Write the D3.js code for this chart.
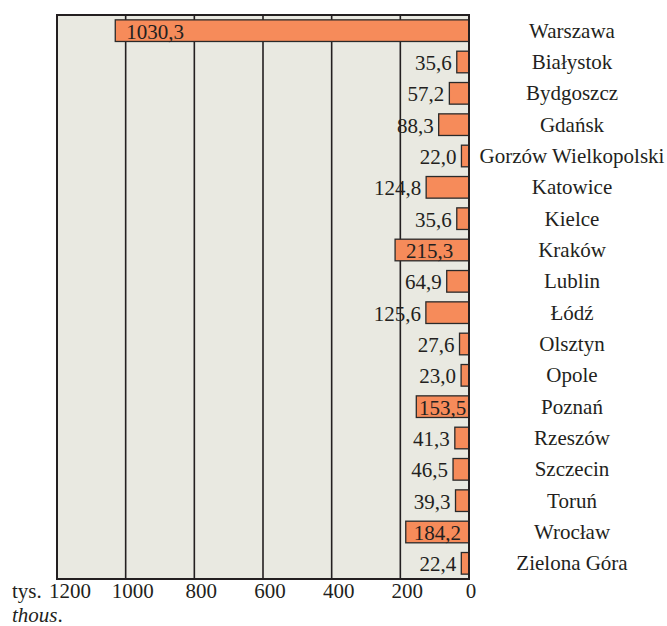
<!DOCTYPE html>
<html>
<head>
<meta charset="utf-8">
<script src="https://cdn.jsdelivr.net/npm/d3@7"></script>
<style>
  body { margin: 0; }
  #chart text { font-family: "Liberation Serif", "Times New Roman", Tinos, serif !important; }
</style>
</head>
<body>
<svg id="chart" width="667" height="626"></svg>
<script>
// Cities (voivodeship capitals) and their values, in thousands
const cities = ["Warszawa", "Białystok", "Bydgoszcz", "Gdańsk", "Gorzów Wielkopolski",
  "Katowice", "Kielce", "Kraków", "Lublin", "Łódź", "Olsztyn", "Opole", "Poznań",
  "Rzeszów", "Szczecin", "Toruń", "Wrocław", "Zielona Góra"];
const values = [1030.3, 35.6, 57.2, 88.3, 22.0, 124.8, 35.6, 215.3, 64.9, 125.6,
  27.6, 23.0, 153.5, 41.3, 46.5, 39.3, 184.2, 22.4];
const tickValues = [1200, 1000, 800, 600, 400, 200, 0];
const unitLabel = "tys.";
const unitLabelEn = "thous";

const INK = "#231f20";
const svg = d3.select("#chart");
const plot = { left: 57, right: 469, top: 15, bottom: 579 };

// Bars grow leftwards from zero on the right edge
const x = d3.scaleLinear().domain([0, 1200]).range([plot.right, plot.left]);
const y = d3.scaleBand().domain(cities).range([plot.top, plot.bottom]).paddingInner(0.31).paddingOuter(0.155);
const fmt = v => d3.format(".1f")(v).replace(".", ",");

// Shared text styling: serif face, dark ink
function label(sel, size) {
  return sel.attr("font-family", "Liberation Serif")
    .attr("font-size", size)
    .attr("fill", INK);
}

// Plot background
svg.append("rect")
  .attr("x", plot.left).attr("y", plot.top)
  .attr("width", plot.right - plot.left).attr("height", plot.bottom - plot.top)
  .attr("fill", "#e9e9e1");

// Vertical gridlines
svg.append("g").selectAll("line")
  .data(tickValues.filter(v => v !== 0 && v !== 1200))
  .join("line")
  .attr("x1", d => x(d)).attr("x2", d => x(d))
  .attr("y1", plot.top).attr("y2", plot.bottom)
  .attr("stroke", INK).attr("stroke-width", 1.6);

// Bars
const rows = cities.map((c, i) => ({ city: c, value: values[i] }));
svg.append("g").selectAll("rect")
  .data(rows)
  .join("rect")
  .attr("x", d => x(d.value))
  .attr("y", d => y(d.city))
  .attr("width", d => x(0) - x(d.value))
  .attr("height", y.bandwidth())
  .attr("fill", "#f68b5a")
  .attr("stroke", "#2a2a2a")
  .attr("stroke-width", 1.3);

// Value labels: inside the bar when they fit, otherwise to its left
const valueLayer = svg.append("g");
rows.forEach(d => {
  const t = label(valueLayer.append("text"), 21)
    .attr("y", y(d.city) + y.bandwidth() / 2)
    .attr("dy", "0.38em")
    .text(fmt(d.value));
  const tw = t.node().getComputedTextLength();
  const bw = x(0) - x(d.value);
  if (bw > tw + 4) {
    const pad = Math.min(11, (bw - tw) / 2);
    t.attr("x", x(d.value) + pad).attr("text-anchor", "start");
  } else {
    t.attr("x", x(d.value) - 5).attr("text-anchor", "end");
  }
});

// Frame
svg.append("rect")
  .attr("x", plot.left).attr("y", plot.top)
  .attr("width", plot.right - plot.left).attr("height", plot.bottom - plot.top)
  .attr("fill", "none").attr("stroke", INK).attr("stroke-width", 2);

// City names on the right
label(svg.append("g").selectAll("text")
  .data(cities)
  .join("text"), 21)
  .attr("x", 572)
  .attr("y", d => y(d) + y.bandwidth() / 2)
  .attr("dy", "0.33em")
  .attr("text-anchor", "middle")
  .text(d => d);

// Axis labels along the bottom
label(svg.append("g").selectAll("text")
  .data(tickValues)
  .join("text"), 21)
  .attr("x", d => x(d) + (d === 0 ? 2 : d === 1200 ? 13 : 7))
  .attr("y", 598)
  .attr("text-anchor", "middle")
  .text(d => d);

label(svg.append("text"), 21)
  .attr("x", 12).attr("y", 598)
  .text(unitLabel);

const en = label(svg.append("text"), 21)
  .attr("x", 12).attr("y", 622);
en.append("tspan").attr("font-style", "italic").text(unitLabelEn);
en.append("tspan").text(".");
</script>
</body>
</html>
